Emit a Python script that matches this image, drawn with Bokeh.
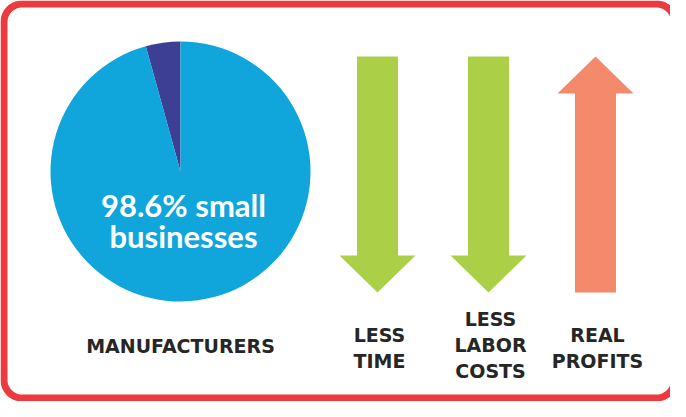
import numpy as np
from bokeh.plotting import figure
from bokeh.models import Range1d
from bokeh.core.properties import value
from bokeh.embed import file_html
from bokeh.resources import INLINE

# ---- data ----
pie_labels = ["Small businesses", "Other"]
pie_shares = [95.7, 4.3]          # drawn slice sizes (percent)
pie_colors = ["#10A6DC", "#3C3F93"]
pie_caption = ["98.6% small", "businesses"]
pie_title = "MANUFACTURERS"

arrow_labels = ["LESS\nTIME", "LESS\nLABOR\nCOSTS", "REAL\nPROFITS"]
arrow_dirs = [-1, -1, 1]          # -1 = down, 1 = up
arrow_colors = ["#ABCF47", "#ABCF47", "#F4896B"]

W, H = 670, 401
PAGE_H = 417

def Y(y):  # reference pixel row -> data y
    return PAGE_H - y

p = figure(width=W, height=H, output_backend="svg", toolbar_location=None,
           x_range=Range1d(8, 8 + W), y_range=Range1d(Y(8 + H), Y(8)),
           min_border=0)
p.axis.visible = False
p.grid.visible = False
p.outline_line_color = None
p.background_fill_color = "white"
p.border_fill_color = "white"

# ---- rounded border ----
def rounded_rect(x0, y0, x1, y1, r, n=20):
    xs, ys = [], []
    corners = [(x1 - r, y1 - r, 0), (x0 + r, y1 - r, 90), (x0 + r, y0 + r, 180), (x1 - r, y0 + r, 270)]
    for cx, cy, a0 in corners:
        t = np.radians(np.linspace(a0, a0 + 90, n))
        xs.extend(cx + r * np.cos(t))
        ys.extend(cy + r * np.sin(t))
    return xs, ys

bx, by = rounded_rect(11.5, Y(405.5), 682, Y(11.5), 18)
p.patch(bx, by, fill_color=None, line_color="#EE3A3F", line_width=7)

# ---- pie ----
cx, cy, R = 188, Y(179), 130
shares = np.array(pie_shares[::-1], dtype=float)
fr = shares / shares.sum()
ends = np.pi / 2 + 2 * np.pi * np.cumsum(fr)
starts = np.concatenate([[np.pi / 2], ends[:-1]])
p.wedge(x=cx, y=cy, radius=R, start_angle=starts, end_angle=ends,
        fill_color=pie_colors[::-1], line_color=None)

p.text(x=[191, 191], y=[Y(212), Y(243)], text=pie_caption,
       text_color="white", text_font=value("Lato"), text_font_style="bold",
       text_font_size="31px", text_align="center", text_baseline="middle")

LABEL_FONT = value("DejaVu Sans")
LABEL_SIZE = "19px"
LABEL_COLOR = "#262626"

p.text(x=[188], y=[Y(353)], text=[pie_title], text_color=LABEL_COLOR,
       text_font=LABEL_FONT, text_font_style="bold", text_font_size=LABEL_SIZE,
       text_align="center", text_baseline="middle")

# ---- arrows ----
arrow_x = [385, 496, 603]
top_y, bot_y = 64, 300
head_len, head_hw, shaft_hw = 37, 38, 20.5
for ax, d, col, lab in zip(arrow_x, arrow_dirs, arrow_colors, arrow_labels):
    if d < 0:
        tail, tip = top_y, bot_y
        base = tip - head_len
    else:
        tail, tip = bot_y, top_y
        base = tip + head_len
    xs = [ax - shaft_hw, ax + shaft_hw, ax + shaft_hw, ax + head_hw, ax, ax - head_hw, ax - shaft_hw]
    ys = [Y(tail), Y(tail), Y(base), Y(base), Y(tip), Y(base), Y(base)]
    p.patch(xs, ys, fill_color=col, line_color=None)
    lines = lab.split("\n")
    n = len(lines)
    step = 26
    center = 352 if n == 3 else 355
    ys_t = [Y(center + (i - (n - 1) / 2) * step) for i in range(n)]
    p.text(x=[ax + 2] * n, y=ys_t, text=lines, text_color=LABEL_COLOR,
           text_font=LABEL_FONT, text_font_style="bold", text_font_size=LABEL_SIZE,
           text_align="center", text_baseline="middle")

open("out.html", "w").write(file_html(p, INLINE))
